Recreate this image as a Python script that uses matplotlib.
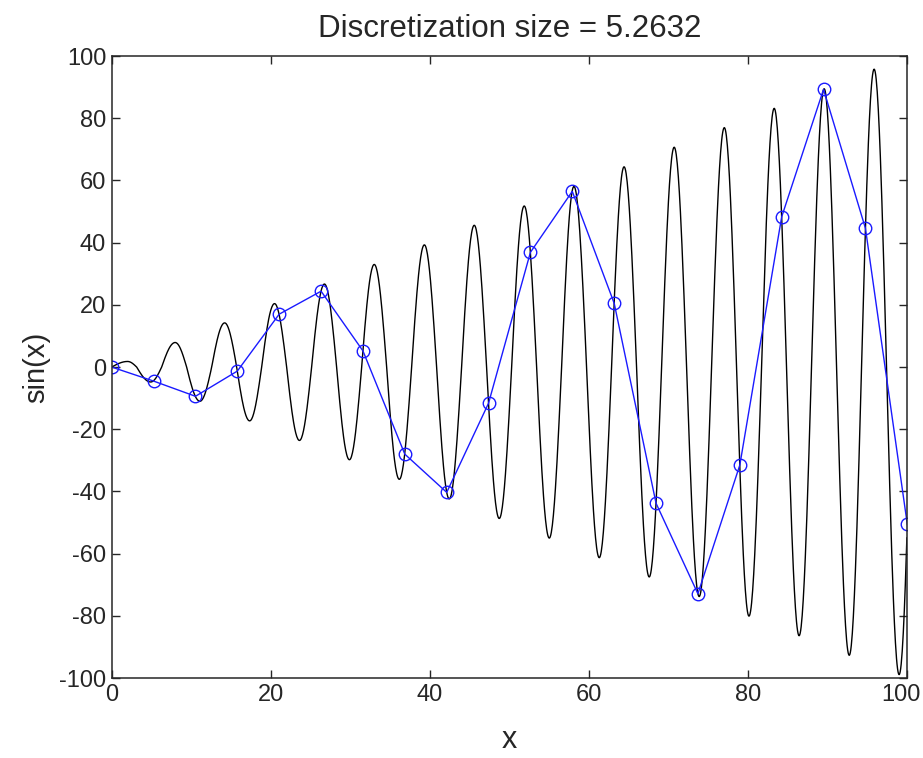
import numpy as np
import matplotlib
matplotlib.use('Agg')
import matplotlib.pyplot as plt
import matplotlib.transforms as mtransforms

plt.rcParams['font.family'] = ['Liberation Sans', 'DejaVu Sans']
plt.rcParams['axes.unicode_minus'] = False

# extrema of the black curve
ext_x = [2.0, 4.9, 7.98, 11.09, 14.2, 17.34, 20.47, 23.6, 26.74, 29.88, 33.0, 36.15,
         39.3, 42.43, 45.57, 48.71, 51.85, 55.0, 58.1, 61.28, 64.4, 67.56, 70.7, 73.84,
         77.0, 80.1, 83.27, 86.4, 89.55, 92.7, 95.83, 98.97]
ext_y = [1.8, -4.8, 7.9, -11.0, 14.2, -17.3, 20.4, -23.6, 26.7, -29.8, 33.0, -36.1,
         39.3, -42.4, 45.6, -48.7, 51.8, -55.0, 58.1, -61.3, 64.4, -67.5, 70.7, -73.8,
         77.0, -80.1, 83.2, -86.4, 89.5, -92.7, 95.8, -98.9]
# zero crossings of the black curve (the last one lies just past the axis end)
zero_x = [0, 3.14, 6.28, 9.42, 12.57, 15.71, 18.85, 21.99, 25.13, 28.27, 31.42, 34.56,
          37.70, 40.84, 43.98, 47.12, 50.27, 53.41, 56.55, 59.69, 62.83, 65.97, 69.12,
          72.26, 75.40, 78.54, 81.68, 84.82, 87.96, 91.11, 94.25, 97.39, 100.53]

# discretized samples (blue)
disc_x = [0, 5.26, 10.53, 15.79, 21.05, 26.32, 31.58, 36.84, 42.11, 47.37,
          52.63, 57.89, 63.16, 68.42, 73.68, 78.95, 84.21, 89.47, 94.74, 100]
disc_y = [0, -4.5, -9.4, -1.3, 17.0, 24.4, 5.2, -28.0, -40.3, -11.6,
          36.9, 56.5, 20.5, -43.8, -72.9, -31.5, 48.3, 89.3, 44.6, -50.6]

# smooth black curve: quarter waves between each zero and extremum
cx, cy = [], []
for i in range(len(ext_x)):
    t = np.linspace(0, 1, 25)
    cx.extend(zero_x[i] + (ext_x[i] - zero_x[i]) * t)
    cy.extend(ext_y[i] * np.sin(np.pi / 2 * t))
    cx.extend(ext_x[i] + (zero_x[i + 1] - ext_x[i]) * t[1:])
    cy.extend(ext_y[i] * np.cos(np.pi / 2 * t[1:]))
cx = np.array(cx)
cy = np.array(cy)
keep = cx <= 100
cx, cy = cx[keep], cy[keep]

fig = plt.figure(figsize=(9.23, 7.58), dpi=100)
ax = fig.add_axes([0.121, 0.1055, 0.862, 0.8205])

ax.plot(cx, cy, color='black', lw=1.0)
ax.plot(disc_x, disc_y, color='#1a1aff', lw=1.0, marker='o', markersize=9,
        markerfacecolor='none', markeredgecolor='#1a1aff', markeredgewidth=1.0)

ax.set_xlim(0, 100)
ax.set_ylim(-100, 100)
ax.set_xticks(np.arange(0, 101, 20))
ax.set_yticks(np.arange(-100, 101, 20))
ax.tick_params(direction='in', length=6, width=1, top=True, right=True,
               labelsize=17, colors='#262626', pad=4)
for s in ax.spines.values():
    s.set_color('#262626')
    s.set_linewidth(1.1)

# the last x label sits right at the figure edge; nudge it in a little
last = ax.get_xticklabels()[-1]
last.set_transform(last.get_transform() +
                   mtransforms.ScaledTranslation(-6 / 100, 0, fig.dpi_scale_trans))

ax.set_title('Discretization size = 5.2632', fontsize=22.5, color='#262626', pad=14)
ax.set_xlabel('x', fontsize=22, color='#262626', labelpad=14)
ax.set_ylabel('sin(x)', fontsize=21, color='#262626', labelpad=6)

fig.savefig('out.png', dpi=100)
